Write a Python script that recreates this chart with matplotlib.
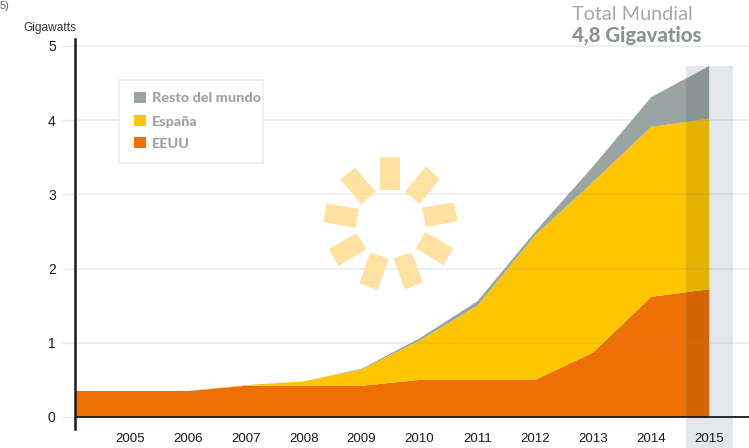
import matplotlib
matplotlib.use("Agg")
import matplotlib.pyplot as plt
from matplotlib.patches import Polygon, Rectangle

W, H = 749, 448
years = [2004, 2005, 2006, 2007, 2008, 2009, 2010, 2011, 2012, 2013, 2014, 2015]
eeuu = [0.35, 0.35, 0.35, 0.42, 0.42, 0.42, 0.50, 0.50, 0.50, 0.87, 1.62, 1.72]
espana = [0.0, 0.0, 0.0, 0.01, 0.06, 0.22, 0.53, 1.00, 1.95, 2.30, 2.29, 2.30]
resto = [0.0, 0.0, 0.0, 0.0, 0.0, 0.01, 0.03, 0.06, 0.05, 0.21, 0.40, 0.71]
year_labels = [2005, 2006, 2007, 2008, 2009, 2010, 2011, 2012, 2013, 2014, 2015]
y_ticks = [0, 1, 2, 3, 4, 5]
series_names = ["Resto del mundo", "España", "EEUU"]
colors = {"Resto del mundo": "#9aa5a3", "España": "#ffc600", "EEUU": "#ed6f05"}

plt.rcParams["font.family"] = ["Liberation Sans", "DejaVu Sans"]

fig = plt.figure(figsize=(W / 100, H / 100), dpi=100)
ax = fig.add_axes([75 / W, (H - 429) / H, (W - 75) / W, 390 / H])
ax.set_xlim(2004.05, 2015.69)
ax.set_ylim(-0.162, 5.094)

# highlight band
ax.axvspan(2014.60, 2015.41, ymin=-0.0487, ymax=0.931, color="#e4e7eb", lw=0,
           clip_on=False, zorder=1)

# stacked areas
ax.stackplot(years, eeuu, espana, resto,
             colors=[colors["EEUU"], colors["España"], colors["Resto del mundo"]],
             lw=0, zorder=2)
total = [a + b + c for a, b, c in zip(eeuu, espana, resto)]
shade = ax.fill_between(years, 0, total, color="black", alpha=0.10, lw=0, zorder=3)
shade.set_clip_path(Rectangle((2014.60, 0), 0.81, 6, transform=ax.transData))

# grid
for v in y_ticks[1:]:
    ax.axhline(v, color="#8a8f8f", alpha=0.18, lw=1.1, zorder=4)
ax.axhline(0, color="#1a1a1a", lw=1.3, zorder=6)

# axis
for s in ["top", "right", "bottom"]:
    ax.spines[s].set_visible(False)
ax.spines["left"].set_color("#1a1a1a")
ax.spines["left"].set_linewidth(1.8)
ax.spines["left"].set_zorder(7)
ax.set_yticks(y_ticks)
ax.tick_params(axis="y", length=9.4, width=1.0, color="#e6e6e6", pad=4.5,
               labelsize=10, labelcolor="#1a1a1a")
ax.yaxis.get_major_ticks()[0].tick1line.set_color("#1a1a1a")
ax.set_xticks(year_labels)
ax.tick_params(axis="x", length=0, pad=3, labelsize=9.6, labelcolor="#1a1a1a")
ax.set_xticklabels([str(y) for y in year_labels])


def px(x, y):
    return (x / W, 1 - y / H)


# sun decoration (corners in zoomed reference pixels)
rays = [
    [(210, 22), (270, 22), (270, 120), (210, 120)],
    [(347, 50), (390, 87), (328, 162), (285, 126)],
    [(336, 173), (432, 157), (443, 214), (347, 231)],
    [(346, 246), (430, 295), (400, 346), (317, 295)],
    [(251, 325), (305, 307), (339, 398), (284, 418)],
    [(180, 308), (236, 326), (203, 420), (148, 400)],
    [(56, 297), (140, 249), (169, 298), (85, 348)],
    [(50, 160), (147, 177), (137, 234), (40, 216)],
    [(91, 88), (135, 52), (198, 126), (154, 163)],
]
for r in rays:
    pts = [px(310 + a / 3, 150 + b / 3) for a, b in r]
    fig.add_artist(Polygon(pts, closed=True, transform=fig.transFigure,
                           facecolor="#ffdf99", alpha=0.92, lw=0, zorder=5))

# legend
fig.add_artist(Rectangle(px(119, 163), 144 / W, 83 / H, transform=fig.transFigure,
                         facecolor="white", edgecolor="#eceeee", lw=1.2, zorder=8))
for name, y0 in zip(series_names, [92, 115, 137]):
    fig.add_artist(Rectangle(px(134, y0 + 11.5), 12 / W, 11.5 / H, transform=fig.transFigure,
                             facecolor=colors[name], lw=0, zorder=9))
    x_t, y_t = px(151.5, y0 + 6.5)
    fig.text(x_t, y_t, name, family="Lato", weight="black", fontsize=10.4, color="#9aa5a3",
             va="center", ha="left", zorder=9)

# titles
x_t, y_t = px(23, 28)
fig.text(x_t, y_t, "Gigawatts", fontsize=8.6, color="#333333", va="center", ha="left")
x_t, y_t = px(572, 15)
fig.text(x_t, y_t, "Total Mundial", family="Lato", fontsize=14.3, color="#a3abaa",
         va="center", ha="left")
x_t, y_t = px(572, 35.5)
fig.text(x_t, y_t, "4,8 Gigavatios", family="Lato", weight="black", fontsize=14.7,
         color="#8a9492", va="center", ha="left")
x_t, y_t = px(0, 6)
fig.text(x_t, y_t, "5)", fontsize=8, color="#666666", va="center", ha="left")

fig.savefig("out.png", dpi=100)
